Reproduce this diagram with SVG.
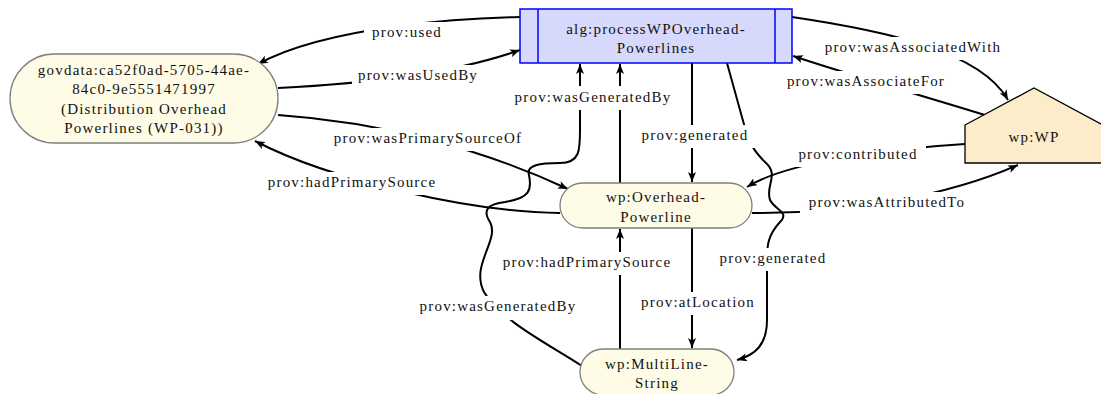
<svg xmlns="http://www.w3.org/2000/svg" width="1101" height="394" viewBox="0 0 1101 394">
<style>
text{font-family:"Liberation Serif","Times New Roman",serif;font-size:15px;letter-spacing:1.2px;text-anchor:middle;fill:#111}
.e{fill:none;stroke:#000;stroke-width:2}
.a{marker-end:url(#arr)}
.lb{fill:#fff;stroke:none}
.ent{fill:#fefce6;stroke:#7f7f7f;stroke-width:1.3}
.act{fill:#d6d9fb;stroke:#0000ff;stroke-width:1.5}
.agt{fill:#fcecc9;stroke:#000;stroke-width:1.3}
</style>
<defs>
<marker id="arr" viewBox="0 0 10 8" refX="10" refY="4" markerWidth="10" markerHeight="8" markerUnits="userSpaceOnUse" orient="auto">
<path d="M0,0 L10,4 L0,8 L2.5,4 Z" fill="#000"/>
</marker>
</defs>
<g id="connectors">
<path class="e a" d="M520,17 C470,18 330,25 258,64"/>
<path class="e a" d="M278,88 C360,84 450,75 520,50"/>
<path class="e a" d="M278,115 C380,122 480,148 568,189"/>
<path class="e a" d="M560,213 C470,212 330,180 255,141"/>
<path class="e a" d="M620,183 L620,64"/>
<path class="e a" d="M582,366 C550,345 500,320 484,292 C470,265 500,240 490,222 C482,210 488,204 505,202 C530,198 532,190 529,175 C526,165 540,163 560,163 C580,163 580,150 580,130 L580,64"/>
<path class="e a" d="M692,63 L692,182"/>
<path class="e a" d="M692,228 L692,348"/>
<path class="e a" d="M620,349 L620,229"/>
<path class="e a" d="M727,63 L745,128 C750,145 755,152 765,162 C780,175 765,185 770,200 C775,210 790,212 780,222 C768,235 767,245 767,260 L767,320 C767,345 755,355 737,360"/>
<path class="e a" d="M792,17 C880,30 980,50 1008,100"/>
<path class="e a" d="M985,115 C930,98 850,75 793,56"/>
<path class="e a" d="M965,144 C900,148 790,160 747,187"/>
<path class="e a" d="M752,213 C850,214 950,195 1018,165"/>
<g id="edge-labels">
<rect class="lb" x="364" y="22" width="86" height="23"/><text x="407" y="37">prov:used</text>
<rect class="lb" x="352" y="65" width="136" height="23"/><text x="418" y="80">prov:wasUsedBy</text>
<rect class="lb" x="506" y="86" width="174" height="24"/><text x="593" y="102">prov:wasGeneratedBy</text>
<rect class="lb" x="817" y="37" width="192" height="23"/><text x="913" y="52">prov:wasAssociatedWith</text>
<rect class="lb" x="782" y="71" width="168" height="23"/><text x="866" y="86">prov:wasAssociateFor</text>
<rect class="lb" x="327" y="128" width="202" height="23"/><text x="428" y="143">prov:wasPrimarySourceOf</text>
<rect class="lb" x="635" y="125" width="120" height="23"/><text x="695" y="140">prov:generated</text>
<rect class="lb" x="261" y="172" width="183" height="23"/><text x="352" y="187">prov:hadPrimarySource</text>
<rect class="lb" x="792" y="144" width="134" height="23"/><text x="858" y="159">prov:contributed</text>
<rect class="lb" x="800" y="192" width="174" height="23"/><text x="887" y="207">prov:wasAttributedTo</text>
<rect class="lb" x="495" y="252" width="184" height="23"/><text x="587" y="267">prov:hadPrimarySource</text>
<rect class="lb" x="714" y="248" width="118" height="23"/><text x="773" y="263">prov:generated</text>
<rect class="lb" x="635" y="292" width="127" height="23"/><text x="698" y="307">prov:atLocation</text>
<rect class="lb" x="413" y="296" width="172" height="24"/><text x="498" y="311">prov:wasGeneratedBy</text>
</g>
</g>
<g id="govdata">
<rect class="ent" x="10" y="54" width="268" height="89" rx="44.5" ry="44.5"/>
<text x="144" y="75">govdata:ca52f0ad-5705-44ae-</text>
<text x="144" y="94">84c0-9e5551471997</text>
<text x="144" y="114">(Distribution Overhead</text>
<text x="144" y="133">Powerlines (WP-031))</text>
</g>
<g id="process">
<rect class="act" x="520" y="9" width="272" height="54"/>
<line x1="538" y1="9" x2="538" y2="63" stroke="#0000ff" stroke-width="1.5"/>
<line x1="775" y1="9" x2="775" y2="63" stroke="#0000ff" stroke-width="1.5"/>
<text x="656" y="34">alg:processWPOverhead-</text>
<text x="656" y="53">Powerlines</text>
</g>
<g id="overhead">
<rect class="ent" x="560" y="183" width="192" height="45" rx="22.5" ry="22.5"/>
<text x="656" y="202">wp:Overhead-</text>
<text x="656" y="222">Powerline</text>
</g>
<g id="multiline">
<rect class="ent" x="580" y="349" width="154" height="46" rx="23" ry="23"/>
<text x="657" y="369">wp:MultiLine-</text>
<text x="657" y="388">String</text>
</g>
<g id="wp">
<polygon class="agt" points="965,125 1034,88 1103,125 1103,163 965,163"/>
<text x="1034" y="142">wp:WP</text>
</g>
</svg>
